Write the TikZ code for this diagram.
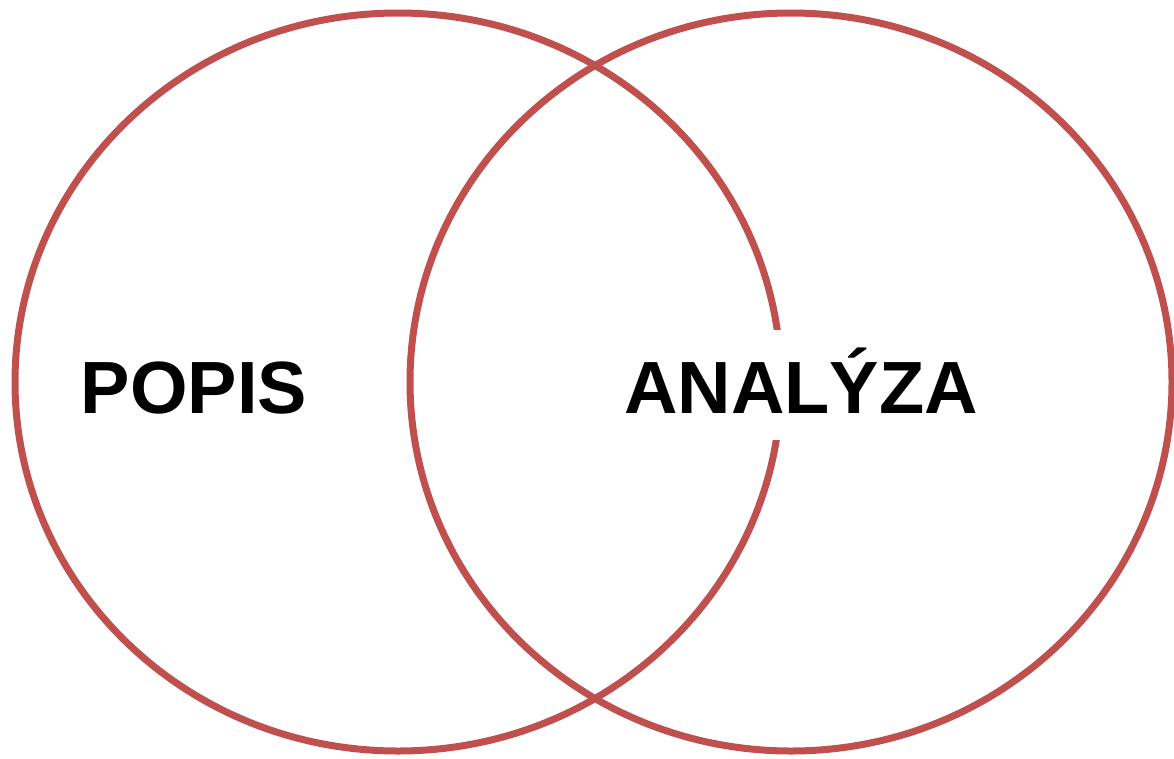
\documentclass[tikz,border=0pt]{standalone}
\usepackage{fontspec}
\setmainfont{Liberation Sans}
\definecolor{vennred}{HTML}{C0504D}
\begin{document}
\begin{tikzpicture}[x=1pt,y=1pt,
  ring/.style={draw=vennred,line width=7pt},
  label/.style={font=\bfseries\fontsize{74}{80}\selectfont,inner sep=0pt,anchor=base,text height=83pt,text depth=27pt}]
\useasboundingbox (0,0) rectangle (1174,-758);
\draw[ring] (398,-382) ellipse [x radius=383, y radius=369];
\draw[ring] (791,-382) ellipse [x radius=381, y radius=369];
\node[label] (popis) at (194,-413) {POPIS};
\node[label,fill=white] (analyza) at (801,-413) {ANALÝZA};
\end{tikzpicture}
\end{document}
